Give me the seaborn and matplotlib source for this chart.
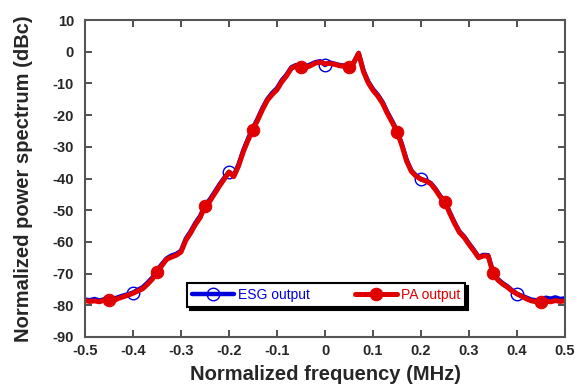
import matplotlib
matplotlib.use("Agg")
import matplotlib.pyplot as plt
import seaborn as sns
import numpy as np
import pandas as pd

freq = [round(-0.50 + 0.01 * i, 2) for i in range(101)]

pa_output = [
    -78.5, -78.8, -78.6, -78.9, -78.4, -78.3, -78.5, -77.8, -77.3, -76.8,
    -76.2, -75.5, -74.8, -73.4, -71.8, -69.5, -67.5, -65.5, -64.8, -64.2,
    -63.2, -59.5, -57.2, -54.5, -52.3, -48.8, -47.2, -44.8, -42.4, -40.2,
    -38.0, -39.4, -36.0, -31.5, -27.8, -24.6, -21.5, -18.2, -15.3, -13.5,
    -12.0, -9.5, -7.6, -5.2, -4.5, -4.8, -5.0, -4.4, -3.6, -3.3,
    -3.8, -3.7, -4.0, -4.4, -4.6, -4.9, -3.5, -0.5, -6.2, -9.8,
    -12.2, -14.0, -16.3, -19.5, -22.3, -25.2, -29.5, -34.5, -37.8, -39.3,
    -40.2, -40.8, -41.6, -43.5, -45.8, -47.5, -51.0, -54.2, -57.0, -58.6,
    -60.8, -62.8, -65.0, -64.4, -64.5, -69.8, -72.0, -73.3, -74.3, -75.5,
    -76.4, -77.2, -78.0, -78.6, -78.9, -79.0, -78.7, -78.9, -78.5, -78.8,
    -78.6,
]

esg_output = [
    -78.2, -78.4, -78.0, -78.5, -78.1, -78.0, -77.9, -77.4, -76.9, -76.5,
    -76.0, -75.1, -74.3, -72.9, -71.3, -69.0, -67.0, -65.2, -64.3, -63.8,
    -62.8, -59.0, -56.7, -54.0, -51.8, -48.4, -46.6, -44.3, -41.9, -39.8,
    -37.9, -39.0, -35.5, -31.0, -27.3, -24.0, -21.0, -17.7, -14.9, -13.0,
    -11.5, -9.0, -7.2, -4.9, -4.2, -4.5, -4.6, -4.0, -3.3, -3.0,
    -4.2, -3.4, -3.8, -4.2, -4.4, -4.7, -3.3, -0.4, -5.9, -9.4,
    -11.8, -13.6, -15.9, -19.1, -21.9, -24.9, -29.1, -34.1, -37.5, -39.1,
    -40.3, -40.6, -41.4, -43.2, -45.5, -47.2, -50.7, -53.9, -56.7, -58.3,
    -60.5, -62.5, -64.7, -64.1, -64.2, -69.5, -71.7, -73.0, -74.0, -75.3,
    -76.4, -77.0, -77.6, -78.2, -78.4, -78.3, -77.6, -77.9, -77.5, -78.0,
    -77.8,
]

xticks = [-0.5, -0.4, -0.3, -0.2, -0.1, 0, 0.1, 0.2, 0.3, 0.4, 0.5]
xtick_labels = ["-0.5", "-0.4", "-0.3", "-0.2", "-0.1", "0", "0.1", "0.2", "0.3", "0.4", "0.5"]
yticks = [10, 0, -10, -20, -30, -40, -50, -60, -70, -80, -90]

df = pd.DataFrame({"freq": freq, "ESG": esg_output, "PA": pa_output})

sns.set_style("ticks")
plt.rcParams["font.family"] = ["Liberation Sans", "DejaVu Sans"]

fig = plt.figure(figsize=(5.77, 3.92), dpi=100)
ax = fig.add_axes([85 / 577, (392 - 337) / 392, 480 / 577, 317 / 392])

blue_idx = [10, 30, 50, 70, 90]
red_idx = [5, 15, 25, 35, 45, 55, 65, 75, 85, 95]

sns.lineplot(data=df, x="freq", y="ESG", ax=ax, color="#0000dd", linewidth=3.2,
             marker="o", markersize=9, markerfacecolor="none",
             markeredgecolor="#0000dd", markeredgewidth=1.0,
             markevery=blue_idx, estimator=None, sort=False, label="ESG output")
sns.lineplot(data=df, x="freq", y="PA", ax=ax, color="#e00000", linewidth=3.6,
             marker="o", markersize=9, markerfacecolor="#e00000",
             markeredgecolor="#e00000", markevery=red_idx,
             estimator=None, sort=False, label="PA output")

ax.set_xlim(-0.5, 0.5)
ax.set_ylim(-90, 10)
ax.set_xticks(xticks)
ax.set_xticklabels(xtick_labels)
ax.set_yticks(yticks)
ax.set_yticklabels([str(v) for v in yticks])

for s in ax.spines.values():
    s.set_visible(True)
    s.set_color("#555555")
    s.set_linewidth(1.5)

ax.tick_params(axis="both", which="major", direction="in", length=5, width=1.2,
               color="#333333", top=True, right=True, labelsize=10.5)
ax.tick_params(axis="x", pad=5)
ax.tick_params(axis="y", pad=8)
for lab in ax.get_xticklabels() + ax.get_yticklabels():
    lab.set_fontweight("bold")

ax.set_xlabel("Normalized frequency (MHz)", fontsize=14.5, fontweight="bold", labelpad=5)
ax.set_ylabel("Normalized power spectrum (dBc)", fontsize=14.5, fontweight="bold", labelpad=14)

leg = ax.legend(loc="lower left", bbox_to_anchor=(0.2125, 0.094, 0.58, 0.085),
                mode="expand", ncol=2, frameon=True, fancybox=False,
                borderaxespad=0, edgecolor="black", framealpha=1, fontsize=10,
                handlelength=3.0, handletextpad=0.3, borderpad=0.35,
                labelcolor="linecolor",
                shadow={"color": "black", "alpha": 1, "ox": 2, "oy": -2})
leg.get_frame().set_linewidth(1.5)

fig.savefig("out.png", dpi=100)
